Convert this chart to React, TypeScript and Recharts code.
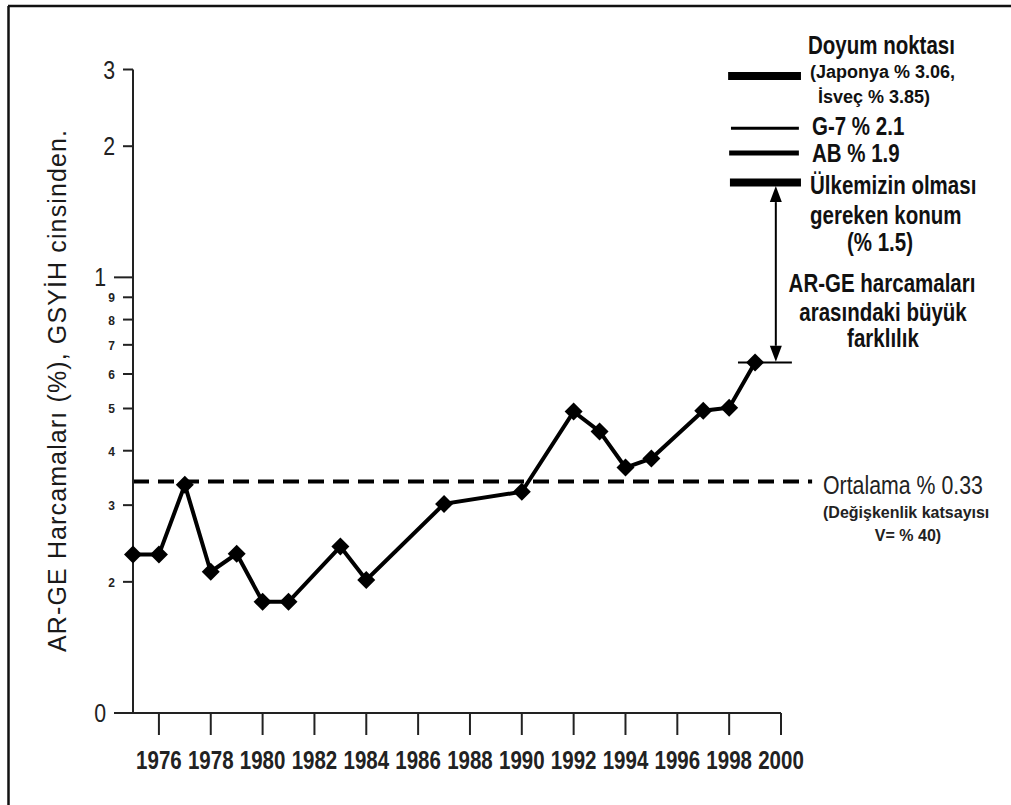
import { LineChart, Line, XAxis, YAxis, ReferenceLine } from "recharts";

const years = [1975, 1976, 1977, 1978, 1979, 1980, 1981, 1983, 1984, 1987, 1990, 1992, 1993, 1994, 1995, 1997, 1998, 1999];
const spending = [0.231, 0.231, 0.334, 0.211, 0.232, 0.18, 0.18, 0.241, 0.202, 0.302, 0.322, 0.492, 0.443, 0.366, 0.384, 0.494, 0.502, 0.638];

const xTicks = [1976, 1978, 1980, 1982, 1984, 1986, 1988, 1990, 1992, 1994, 1996, 1998, 2000];
const yTicks = [0.1, 0.2, 0.3, 0.4, 0.5, 0.6, 0.7, 0.8, 0.9, 1, 2, 3];
const yTickLabels = ["0", "2", "3", "4", "5", "6", "7", "8", "9", "1", "2", "3"];

const average = 0.34;

// reference bars on the right
const benchmarks = [
  { name: "doyum", value: 2.9, from: 1997.96, to: 2000.77, width: 8 },
  { name: "g7", value: 2.2, from: 1998.07, to: 2000.69, width: 3 },
  { name: "ab", value: 1.93, from: 1998.0, to: 2000.69, width: 5 },
  { name: "hedef", value: 1.65, from: 1998.03, to: 2000.77, width: 8 },
];
const gapYear = 1999.8;
const gapFrom = 0.64;
const gapTo = 1.62;

const data = years.map((year, i) => ({ year, value: spending[i] }));

const ARIAL = "'Liberation Sans', Arial, sans-serif";

// Arial Narrow look-alike: Liberation Sans squeezed horizontally
function NText(props: any) {
  const { x, y, size, weight, anchor, fill, children } = props;
  return (
    <text
      transform={`translate(${x},${y}) scale(0.82,1)`}
      fontFamily={ARIAL}
      fontSize={size}
      fontWeight={weight || "normal"}
      textAnchor={anchor || "start"}
      fill={fill || "#111"}
    >
      {children}
    </text>
  );
}

function YTick(props: any) {
  const { x, y, payload } = props;
  const idx = yTicks.indexOf(payload.value);
  const major = payload.value === 0.1 || payload.value === 1;
  const big = payload.value === 0.1 || payload.value >= 1;
  const len = major ? 19 : 10;
  return (
    <g>
      <line x1={x - len} y1={y} x2={x} y2={y} stroke="#222" strokeWidth={2} />
      {big ? (
        <NText x={x - len - 8} y={y + 9} size={26} anchor="end" fill="#222">
          {yTickLabels[idx]}
        </NText>
      ) : (
        <text
          x={x - len - 8}
          y={y + 5}
          textAnchor="end"
          fontFamily={ARIAL}
          fontSize={12}
          fontWeight="bold"
          fill="#222"
        >
          {yTickLabels[idx]}
        </text>
      )}
    </g>
  );
}

function XTick(props: any) {
  const { x, y, payload } = props;
  return (
    <g>
      <line x1={x} y1={y} x2={x} y2={y + 22} stroke="#222" strokeWidth={2} />
      <NText x={x} y={y + 56} size={25} weight="bold" anchor="middle" fill="#222">
        {payload.value}
      </NText>
    </g>
  );
}

function Diamond(props: any) {
  const { cx, cy, index } = props;
  const r = 9;
  return (
    <path
      key={`d-${index}`}
      d={`M${cx},${cy - r} L${cx + r},${cy} L${cx},${cy + r} L${cx - r},${cy} Z`}
      fill="#000"
    />
  );
}

function GapArrow(props: any) {
  const { x1, y1, x2, y2 } = props;
  const top = Math.min(y1, y2);
  const bottom = Math.max(y1, y2);
  const h = 16;
  const w = 6;
  return (
    <g>
      <line x1={x1} y1={top + h} x2={x2} y2={bottom - h} stroke="#000" strokeWidth={2} />
      <path d={`M${x1},${top} L${x1 + w},${top + h} L${x1 - w},${top + h} Z`} fill="#000" />
      <path d={`M${x1},${bottom} L${x1 + w},${bottom - h} L${x1 - w},${bottom - h} Z`} fill="#000" />
    </g>
  );
}

export default function App() {
  return (
    <div style={{ position: "absolute", left: 0, top: 0, width: 1011, height: 805, background: "#fff" }}>
      <LineChart
        width={1011}
        height={805}
        data={data}
        margin={{ top: 69.5, right: 230, bottom: 32, left: 73 }}
      >
        <XAxis
          dataKey="year"
          type="number"
          domain={[1975, 2000]}
          ticks={xTicks}
          height={60}
          axisLine={{ stroke: "#222", strokeWidth: 2 }}
          tickLine={false}
          tickSize={0}
          tickMargin={0}
          tick={<XTick />}
          interval={0}
        />
        <YAxis
          type="number"
          scale="log"
          domain={[0.1, 3]}
          ticks={yTicks}
          allowDataOverflow
          width={60}
          axisLine={{ stroke: "#222", strokeWidth: 2 }}
          tickLine={false}
          tickSize={0}
          tickMargin={0}
          tick={<YTick />}
          interval={0}
        />
        <ReferenceLine
          segment={[
            { x: 1975, y: average },
            { x: 2001.2, y: average },
          ]}
          stroke="#000"
          strokeWidth={4}
          strokeDasharray="16 9"
          ifOverflow="visible"
        />
        {benchmarks.map((b) => (
          <ReferenceLine
            key={b.name}
            segment={[
              { x: b.from, y: b.value },
              { x: b.to, y: b.value },
            ]}
            stroke="#000"
            strokeWidth={b.width}
            ifOverflow="visible"
          />
        ))}
        <ReferenceLine
          segment={[
            { x: 1998.34, y: spending[spending.length - 1] },
            { x: 2000.42, y: spending[spending.length - 1] },
          ]}
          stroke="#000"
          strokeWidth={2}
          ifOverflow="visible"
        />
        <ReferenceLine
          segment={[
            { x: gapYear, y: gapFrom },
            { x: gapYear, y: gapTo },
          ]}
          shape={<GapArrow />}
          ifOverflow="visible"
        />
        <Line
          dataKey="value"
          stroke="#000"
          strokeWidth={4}
          dot={<Diamond />}
          activeDot={false}
          isAnimationActive={false}
        />
      </LineChart>
      <svg
        width={1011}
        height={805}
        style={{ position: "absolute", left: 0, top: 0, pointerEvents: "none" }}
      >
        <line x1={8} y1={6} x2={1011} y2={6} stroke="#111" strokeWidth={2.5} />
        <line x1={8.5} y1={6} x2={8.5} y2={805} stroke="#111" strokeWidth={2.5} />
        <text
          transform="translate(66,391) rotate(-90)"
          textAnchor="middle"
          fontFamily={ARIAL}
          fontSize={25}
          fill="#1a1a1a"
          textLength={522}
          lengthAdjust="spacing"
        >
          AR-GE Harcamaları (%), GSYİH cinsinden.
        </text>
        <NText x={808} y={54} size={25} weight="bold">Doyum noktası</NText>
        <text x={810} y={78} fontSize={18} fontWeight="bold" fontFamily={ARIAL} fill="#111">(Japonya % 3.06,</text>
        <text x={818} y={103} fontSize={18} fontWeight="bold" fontFamily={ARIAL} fill="#111">İsveç % 3.85)</text>
        <NText x={812} y={135} size={25} weight="bold">G-7 % 2.1</NText>
        <NText x={812} y={162} size={25} weight="bold">AB  % 1.9</NText>
        <NText x={810} y={194} size={25} weight="bold">Ülkemizin olması</NText>
        <NText x={810} y={224} size={25} weight="bold">gereken konum</NText>
        <NText x={880} y={251} size={25} weight="bold" anchor="middle">(% 1.5)</NText>
        <NText x={882} y={292} size={25} weight="bold" anchor="middle">AR-GE harcamaları</NText>
        <NText x={883} y={321} size={25} weight="bold" anchor="middle">arasındaki büyük</NText>
        <NText x={883} y={347} size={25} weight="bold" anchor="middle">farklılık</NText>
        <NText x={823} y={494} size={26} fill="#222">Ortalama % 0.33</NText>
        <text x={823} y={518} fontSize={16} fontWeight="bold" fontFamily={ARIAL} fill="#222">(Değişkenlik katsayısı</text>
        <text x={908} y={541} fontSize={16} fontWeight="bold" textAnchor="middle" fontFamily={ARIAL} fill="#222">V= % 40)</text>
      </svg>
    </div>
  );
}
